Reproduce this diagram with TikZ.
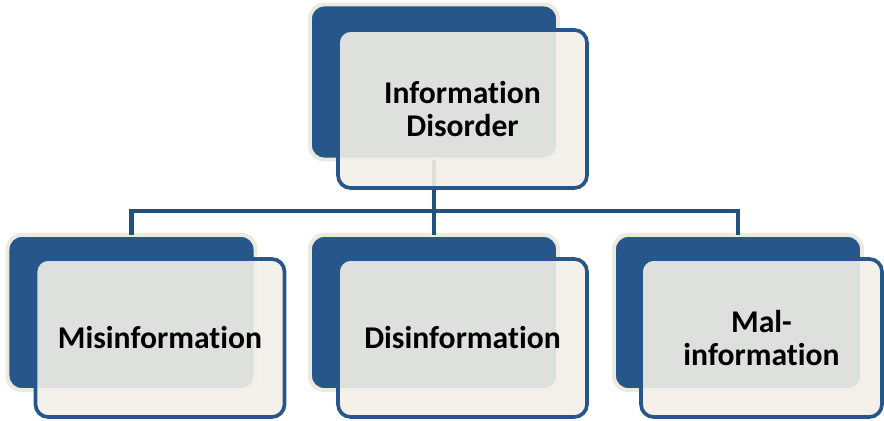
\documentclass[tikz,border=0pt]{standalone}
\usepackage{fontspec}
\setmainfont[Ligatures={NoCommon}]{Carlito}
\usepackage{tikz}
\definecolor{darkblue}{HTML}{27568A}
\definecolor{linkblue}{HTML}{22507F}
\definecolor{cream}{HTML}{F2F0E8}
\definecolor{paleedge}{HTML}{ECE9DE}

\begin{document}
\begin{tikzpicture}[x=0.025cm, y=-0.025cm,
		backbox/.style={draw=paleedge, line width=2.8pt, fill=darkblue, rounded corners=10pt,
			minimum width=248*0.025cm, minimum height=155*0.025cm, inner sep=0pt, outer sep=0pt},
		frontbox/.style={draw=darkblue, line width=2.6pt, fill=cream, fill opacity=.9, text opacity=1,
			rounded corners=9pt, minimum width=249*0.025cm, minimum height=158*0.025cm,
			inner sep=0pt, outer sep=0pt, align=center, font=\fontsize{22.5}{23.5}\selectfont\bfseries},
		link/.style={draw=linkblue, line width=3pt}]
				\useasboundingbox[fill=white] (0,0) rectangle (884,421);
				% back boxes
				\node[backbox] (topback) at (434,82) {};
				\node[backbox] (misback) at (131.5,312.5) {};
				\node[backbox] (disback) at (434,312.5) {};
				\node[backbox] (malback) at (738,312.5) {};
				% connectors
				\coordinate (bus) at (434,211);
				\draw[link] (topback.south) -- (bus);
				\draw[link] (misback.north) |- (bus) -| (malback.north);
				\draw[link] (bus) -- (disback.north);
				% front boxes
				\node[frontbox] (top) at (462.5,109) {Information\\Disorder};
				\node[frontbox] (mis) at (160,338) {Misinformation};
				\node[frontbox] (dis) at (462.5,338) {Disinformation};
				\node[frontbox, minimum width=241*0.025cm] (mal) at (761.5,338) {Mal-\\information};
			\end{tikzpicture}
\end{document}
